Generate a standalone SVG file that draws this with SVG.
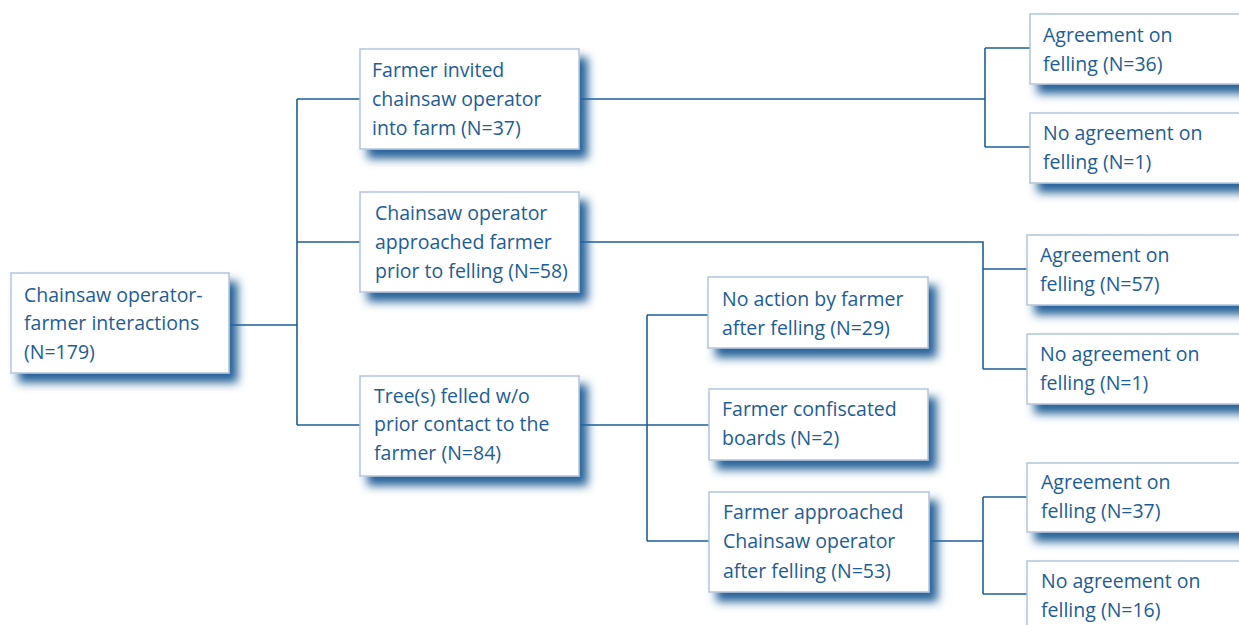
<svg xmlns="http://www.w3.org/2000/svg" width="1239" height="625" viewBox="0 0 1239 625">
<style>
.box{fill:#ffffff;stroke:#b2c5db;stroke-width:1.5;filter:url(#sh)}
.t{font-family:"Open Sans","Noto Sans","Liberation Sans",sans-serif;font-size:19.5px;fill:#1d5d93}
.c{fill:none;stroke:#1f5f96;stroke-width:1.6}
</style>
<defs>
<filter id="sh" x="-10%" y="-20%" width="130%" height="160%">
<feDropShadow dx="8" dy="9" stdDeviation="5" flood-color="#26639a" flood-opacity="1"/>
</filter>
</defs>
<rect width="1239" height="625" fill="#ffffff"/>
<g id="connectors">
<path class="c" d="M229 325H297M297 99V425M297 99H360M297 242H360M297 425H360"/>
<path class="c" d="M579 99H985M985 48V147M985 48H1030M985 147H1030"/>
<path class="c" d="M579 242H983V369M983 269H1027M983 369H1027"/>
<path class="c" d="M579 425H709M647 315V541M647 315H708M647 541H709"/>
<path class="c" d="M929 541H983M983 497V594M983 497H1027M983 594H1027"/>
</g>
<g id="root">
<rect class="box" x="11" y="273" width="218" height="100"/>
<text class="t"><tspan x="24" y="302">Chainsaw operator-</tspan><tspan x="24" y="330">farmer interactions</tspan><tspan x="24" y="359">(N=179)</tspan></text>
</g>
<g id="invited">
<rect class="box" x="360" y="49" width="219" height="100"/>
<text class="t"><tspan x="372" y="77">Farmer invited</tspan><tspan x="372" y="106">chainsaw operator</tspan><tspan x="372" y="135">into farm (N=37)</tspan></text>
</g>
<g id="approached">
<rect class="box" x="360" y="192" width="219" height="100"/>
<text class="t"><tspan x="375" y="220">Chainsaw operator</tspan><tspan x="375" y="249">approached farmer</tspan><tspan x="375" y="278">prior to felling (N=58)</tspan></text>
</g>
<g id="felled">
<rect class="box" x="360" y="376" width="219" height="100"/>
<text class="t"><tspan x="374" y="403">Tree(s) felled w/o</tspan><tspan x="374" y="431">prior contact to the</tspan><tspan x="374" y="460">farmer (N=84)</tspan></text>
</g>
<g id="noaction">
<rect class="box" x="708" y="277" width="220" height="71"/>
<text class="t"><tspan x="722" y="306">No action by farmer</tspan><tspan x="722" y="335">after felling (N=29)</tspan></text>
</g>
<g id="confiscated">
<rect class="box" x="709" y="389" width="219" height="71"/>
<text class="t"><tspan x="722" y="416">Farmer confiscated</tspan><tspan x="722" y="445">boards (N=2)</tspan></text>
</g>
<g id="farmerapproached">
<rect class="box" x="709" y="492" width="220" height="100"/>
<text class="t"><tspan x="723" y="519">Farmer approached</tspan><tspan x="723" y="548">Chainsaw operator</tspan><tspan x="723" y="578">after felling (N=53)</tspan></text>
</g>
<g id="agree36">
<rect class="box" x="1030" y="14" width="240" height="70"/>
<text class="t"><tspan x="1043" y="42">Agreement on</tspan><tspan x="1043" y="71">felling (N=36)</tspan></text>
</g>
<g id="noagree1a">
<rect class="box" x="1030" y="113" width="240" height="70"/>
<text class="t"><tspan x="1043" y="140">No agreement on</tspan><tspan x="1043" y="169">felling (N=1)</tspan></text>
</g>
<g id="agree57">
<rect class="box" x="1027" y="235" width="240" height="70"/>
<text class="t"><tspan x="1040" y="262">Agreement on</tspan><tspan x="1040" y="291">felling (N=57)</tspan></text>
</g>
<g id="noagree1b">
<rect class="box" x="1027" y="334" width="240" height="70"/>
<text class="t"><tspan x="1040" y="361">No agreement on</tspan><tspan x="1040" y="390">felling (N=1)</tspan></text>
</g>
<g id="agree37">
<rect class="box" x="1027" y="463" width="240" height="69"/>
<text class="t"><tspan x="1041" y="489">Agreement on</tspan><tspan x="1041" y="518">felling (N=37)</tspan></text>
</g>
<g id="noagree16">
<rect class="box" x="1027" y="561" width="240" height="70"/>
<text class="t"><tspan x="1041" y="588">No agreement on</tspan><tspan x="1041" y="617">felling (N=16)</tspan></text>
</g>
</svg>
